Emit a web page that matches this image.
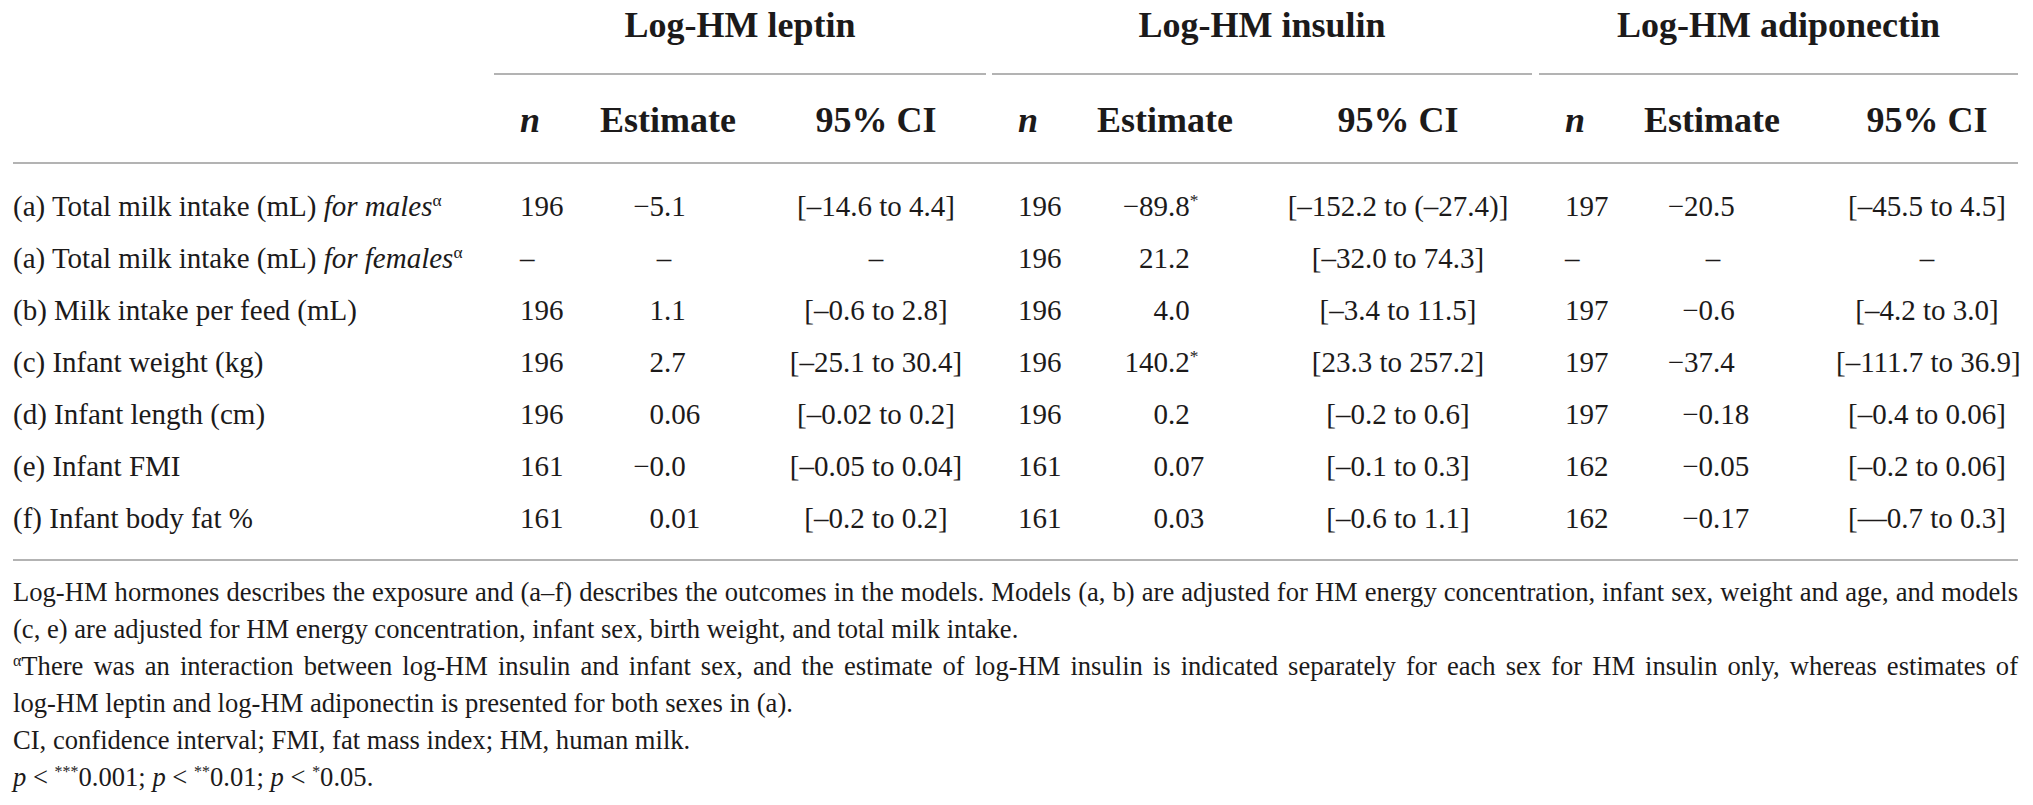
<!DOCTYPE html>
<html>
<head>
<meta charset="utf-8">
<script src="https://cdn.jsdelivr.net/npm/chart.js@4.4.0/dist/chart.umd.min.js"></script>
<style>
html, body { margin: 0; padding: 0; background: #fff; }
body {
    width: 2033px; height: 805px; overflow: hidden; position: relative;
    font-family: "Liberation Serif", "Times New Roman", serif; color: #1c1a1a;
}
#wrap { position: absolute; left: 13px; top: 0; width: 2005px; }
table { border-collapse: separate; border-spacing: 0; table-layout: fixed; width: 2005px; }
th, td { padding: 0; white-space: nowrap; font-weight: normal; text-align: left; }
.grp th { font-size: 36px; font-weight: bold; line-height: 36px; padding: 7px 0 30px 0; text-align: center; }
.grp th.line { border-bottom: 2px solid #b3b3b3; }
.sub th { font-size: 36px; font-weight: bold; line-height: 36px; padding: 27px 0 24px 0; border-bottom: 2px solid #b3b3b3; }
th.corner { border-bottom: 2px solid #b3b3b3; }
.sub th.n { padding-left: 26px; font-style: italic; }
.sub th.ci { text-align: center; }
td { font-size: 29px; line-height: 52px; }
tr.first td { padding-top: 16px; }
tr.last td { padding-bottom: 15px; border-bottom: 2px solid #b3b3b3; }
td.n { padding-left: 26px; }
td.ci { text-align: center; }
.int { display: inline-block; text-align: right; }
.mid { display: inline-block; text-align: center; }
sup { font-size: 0.6em; line-height: 0; vertical-align: 0.55em; }
#notes { position: absolute; left: 13px; top: 574px; width: 2005px; font-size: 26.6px; line-height: 37px; }
#notes div { white-space: normal; }
#notes .just { text-align: justify; text-align-last: justify; }
</style>
</head>
<body>
<div id="wrap"><table id="tbl"></table></div>
<div id="notes"></div>
<script>
// table content
const hormones = ["Log-HM leptin", "Log-HM insulin", "Log-HM adiponectin"];
const subHeaders = ["n", "Estimate", "95% CI"];

const rowLabels = [
    "(a) Total milk intake (mL)",
    "(a) Total milk intake (mL)",
    "(b) Milk intake per feed (mL)",
    "(c) Infant weight (kg)",
    "(d) Infant length (cm)",
    "(e) Infant FMI",
    "(f) Infant body fat %"
];
const rowLabelItalic = ["for males", "for females", "", "", "", "", ""];
const rowLabelSup = ["α", "α", "", "", "", "", ""];

const leptinN = [196, null, 196, 196, 196, 161, 161];
const leptinEst = ["−5.1", null, "1.1", "2.7", "0.06", "−0.0", "0.01"];
const leptinCI = ["[–14.6 to 4.4]", null, "[–0.6 to 2.8]", "[–25.1 to 30.4]", "[–0.02 to 0.2]", "[–0.05 to 0.04]", "[–0.2 to 0.2]"];

const insulinN = [196, 196, 196, 196, 196, 161, 161];
const insulinEst = ["−89.8*", "21.2", "4.0", "140.2*", "0.2", "0.07", "0.03"];
const insulinCI = ["[–152.2 to (–27.4)]", "[–32.0 to 74.3]", "[–3.4 to 11.5]", "[23.3 to 257.2]", "[–0.2 to 0.6]", "[–0.1 to 0.3]", "[–0.6 to 1.1]"];

const adipoN = [197, null, 197, 197, 197, 162, 162];
const adipoEst = ["−20.5", null, "−0.6", "−37.4", "−0.18", "−0.05", "−0.17"];
const adipoCI = ["[–45.5 to 4.5]", null, "[–4.2 to 3.0]", "[–111.7 to 36.9]", "[–0.4 to 0.06]", "[–0.2 to 0.06]", "[—0.7 to 0.3]"];

const footLines = [
    "Log-HM hormones describes the exposure and (a–f) describes the outcomes in the models. Models (a, b) are adjusted for HM energy concentration, infant sex, weight and age, and models",
    "(c, e) are adjusted for HM energy concentration, infant sex, birth weight, and total milk intake.",
    "^αThere was an interaction between log-HM insulin and infant sex, and the estimate of log-HM insulin is indicated separately for each sex for HM insulin only, whereas estimates of",
    "log-HM leptin and log-HM adiponectin is presented for both sexes in (a).",
    "CI, confidence interval; FMI, fat mass index; HM, human milk.",
    "p < ***0.001; p < **0.01; p < *0.05."
];
const footJustified = [true, false, true, false, false, false];

// layout
const labelWidth = 481;
const colWidths = [[96, 176, 220], [98, 174, 268], [91, 206, 182]];
const gapWidths = [6, 7];
const decimalAt = [74, 78, 83];
const estHeadPad = [10, 7, 14];

const groups = [
    { n: leptinN, est: leptinEst, ci: leptinCI },
    { n: insulinN, est: insulinEst, ci: insulinCI },
    { n: adipoN, est: adipoEst, ci: adipoCI }
];

function esc(s) {
    return String(s).replace(/&/g, "&amp;").replace(/</g, "&lt;").replace(/>/g, "&gt;");
}

function estHtml(v, g) {
    const w = decimalAt[g];
    if (v === null) return `<span class="mid" style="width:${2 * w}px">–</span>`;
    let star = "";
    if (v.endsWith("*")) { star = "<sup>*</sup>"; v = v.slice(0, -1); }
    const dot = v.indexOf(".");
    const ip = dot < 0 ? v : v.slice(0, dot);
    const fp = dot < 0 ? "" : v.slice(dot);
    return `<span class="int" style="width:${w}px">${esc(ip)}</span>${esc(fp)}${star}`;
}

const tbl = document.getElementById("tbl");
let html = "<colgroup>";
html += `<col style="width:${labelWidth}px">`;
colWidths.forEach((cw, g) => {
    cw.forEach(w => { html += `<col style="width:${w}px">`; });
    if (g < gapWidths.length) html += `<col style="width:${gapWidths[g]}px">`;
});
html += "</colgroup>";

// header row 1
html += '<tr class="grp"><th class="corner" rowspan="2"></th>';
hormones.forEach((h, g) => {
    html += `<th class="line" colspan="3">${esc(h)}</th>`;
    if (g < gapWidths.length) html += "<th></th>";
});
html += "</tr>";

// header row 2
html += '<tr class="sub">';
hormones.forEach((h, g) => {
    html += `<th class="n">${subHeaders[0]}</th>`;
    html += `<th style="padding-left:${estHeadPad[g]}px">${subHeaders[1]}</th>`;
    html += `<th class="ci">${subHeaders[2]}</th>`;
    if (g < gapWidths.length) html += "<th></th>";
});
html += "</tr>";

// body rows
rowLabels.forEach((lab, i) => {
    let cls = i === 0 ? "first" : (i === rowLabels.length - 1 ? "last" : "");
    html += `<tr class="${cls}">`;
    let labHtml = esc(lab);
    if (rowLabelItalic[i]) labHtml += " <i>" + esc(rowLabelItalic[i]) + "</i>";
    if (rowLabelSup[i]) labHtml += "<sup>" + rowLabelSup[i] + "</sup>";
    html += `<td>${labHtml}</td>`;
    groups.forEach((grp, g) => {
        html += `<td class="n">${grp.n[i] === null ? "–" : grp.n[i]}</td>`;
        html += `<td>${estHtml(grp.est[i], g)}</td>`;
        html += `<td class="ci">${grp.ci[i] === null ? "–" : esc(grp.ci[i])}</td>`;
        if (g < gapWidths.length) html += "<td></td>";
    });
    html += "</tr>";
});
tbl.innerHTML = html;

// footnotes
const notes = document.getElementById("notes");
footLines.forEach((line, i) => {
    const d = document.createElement("div");
    if (footJustified[i]) d.className = "just";
    let h = esc(line);
    h = h.replace(/^\^α/, "<sup>α</sup>");
    h = h.replace(/\bp &lt; (\**)/g, (m, st) => `<i>p</i> &lt; <sup>${st}</sup>`);
    d.innerHTML = h;
    notes.appendChild(d);
});
</script>
</body>
</html>
